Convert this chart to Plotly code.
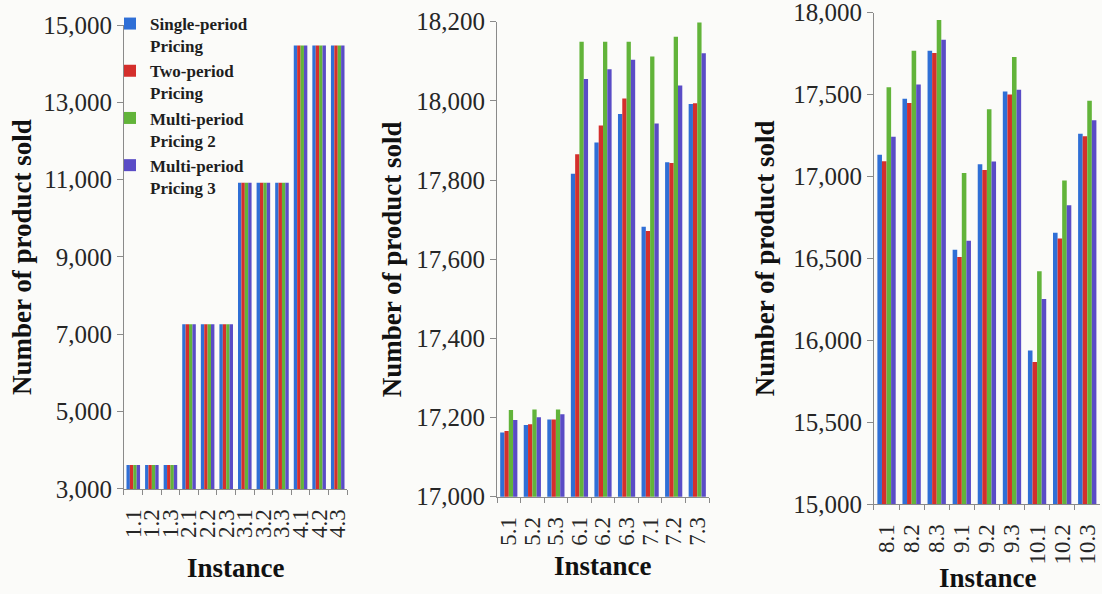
import plotly.graph_objects as go

# Instances per panel
inst_a = ["1.1", "1.2", "1.3", "2.1", "2.2", "2.3", "3.1", "3.2", "3.3", "4.1", "4.2", "4.3"]
inst_b = ["5.1", "5.2", "5.3", "6.1", "6.2", "6.3", "7.1", "7.2", "7.3"]
inst_c = ["8.1", "8.2", "8.3", "9.1", "9.2", "9.3", "10.1", "10.2", "10.3"]

series_names = ["Single-period<br>Pricing", "Two-period<br>Pricing",
                "Multi-period<br>Pricing 2", "Multi-period<br>Pricing 3"]
series_colors = ["#2f6fd6", "#d42f2c", "#62b43a", "#5a4cc6"]

# Number of product sold, instances 1.x - 4.x
single_a = [3620, 3620, 3620, 7260, 7260, 7260, 10920, 10920, 10920, 14470, 14470, 14470]
two_a = [3620, 3620, 3620, 7260, 7260, 7260, 10920, 10920, 10920, 14470, 14470, 14470]
multi2_a = [3620, 3620, 3620, 7260, 7260, 7260, 10920, 10920, 10920, 14470, 14470, 14470]
multi3_a = [3620, 3620, 3620, 7260, 7260, 7260, 10920, 10920, 10920, 14470, 14470, 14470]

# Instances 5.x - 7.x
single_b = [17162, 17181, 17195, 17816, 17895, 17967, 17682, 17845, 17992]
two_b = [17166, 17183, 17195, 17865, 17938, 18006, 17671, 17843, 17994]
multi2_b = [17219, 17220, 17220, 18149, 18149, 18149, 18112, 18162, 18198]
multi3_b = [17194, 17201, 17208, 18055, 18080, 18104, 17943, 18039, 18120]

# Instances 8.x - 10.x
single_c = [17133, 17474, 17768, 16552, 17075, 17519, 15937, 16657, 17261]
two_c = [17093, 17448, 17754, 16509, 17039, 17501, 15867, 16622, 17245]
multi2_c = [17545, 17768, 17956, 17021, 17410, 17730, 16421, 16976, 17463]
multi3_c = [17242, 17562, 17835, 16608, 17091, 17530, 16252, 16824, 17344]

y_ticks_a = [3000, 5000, 7000, 9000, 11000, 13000, 15000]
y_ticks_b = [17000, 17200, 17400, 17600, 17800, 18000, 18200]
y_ticks_c = [15000, 15500, 16000, 16500, 17000, 17500, 18000]

FONT = "Liberation Serif"
BG = "#fbfbf9"
AXIS = "#8a8a8a"
TXT = "#262626"

panels = [
    (inst_a, [single_a, two_a, multi2_a, multi3_a], y_ticks_a, "x", "y"),
    (inst_b, [single_b, two_b, multi2_b, multi3_b], y_ticks_b, "x2", "y2"),
    (inst_c, [single_c, two_c, multi2_c, multi3_c], y_ticks_c, "x3", "y3"),
]

fig = go.Figure()
for p, (cats, data, _, xa, ya) in enumerate(panels):
    for name, color, vals in zip(series_names, series_colors, data):
        fig.add_trace(go.Bar(
            x=cats, y=vals, name="<b>" + name + "</b>",
            marker=dict(color=color, line=dict(width=0)),
            xaxis=xa, yaxis=ya, showlegend=(p == 0),
        ))

x_domains = [[0.1125, 0.3149], [0.451, 0.6434], [0.7931, 0.998]]
y_domains = [[0.1768, 0.9579], [0.1638, 0.9635], [0.1515, 0.9786]]

layout = dict(
    width=1102, height=594,
    margin=dict(l=0, r=0, t=0, b=0),
    paper_bgcolor=BG, plot_bgcolor=BG,
    barmode="group", bargap=0.27, bargroupgap=0,
    font=dict(family=FONT, color=TXT),
    legend=dict(
        x=110 / 1102, y=1 - 6 / 594, xanchor="left", yanchor="top",
        bgcolor="rgba(0,0,0,0)", font=dict(family=FONT, size=17, color="#1e1e1e"),
        valign="top", tracegroupgap=0, itemwidth=30,
    ),
)
for i, (cats, _, yt, xa, ya) in enumerate(panels):
    sfx = "" if i == 0 else str(i + 1)
    layout["xaxis" + sfx] = dict(
        domain=x_domains[i], anchor="y" + sfx, automargin=False,
        type="category", tickmode="array", tickvals=cats, ticktext=cats,
        tickangle=-90, tickson="boundaries", ticks="outside", ticklen=5,
        tickcolor=AXIS, showline=True, linecolor=AXIS, linewidth=1,
        showgrid=False, tickfont=dict(family=FONT, size=23, color=TXT),
        ticklabelstandoff=10, ticklabeloverflow="allow", fixedrange=True,
    )
    layout["yaxis" + sfx] = dict(
        domain=y_domains[i], anchor="x" + sfx, automargin=False,
        range=[yt[0], yt[-1]], tickmode="array", tickvals=yt,
        ticktext=[f"{v:,}" for v in yt],
        ticks="outside", ticklen=6, tickcolor=AXIS,
        showline=True, linecolor=AXIS, linewidth=1, showgrid=False,
        zeroline=False, tickfont=dict(family=FONT, size=25, color=TXT),
        ticklabeloverflow="allow",
    )
fig.update_layout(**layout)

# Axis titles
title_font = dict(family=FONT, size=27, color="#111111")
ytitle_x = [22, 392, 765]
xtitle = [(236, 568), (603, 566), (988, 578)]
for i in range(3):
    dom = y_domains[i]
    fig.add_annotation(
        text="<b>Number of product sold</b>", xref="paper", yref="paper",
        x=ytitle_x[i] / 1102, y=(dom[0] + dom[1]) / 2, textangle=-90,
        showarrow=False, font=title_font, xanchor="center", yanchor="middle",
    )
    fig.add_annotation(
        text="<b>Instance</b>", xref="paper", yref="paper",
        x=xtitle[i][0] / 1102, y=1 - xtitle[i][1] / 594,
        showarrow=False, font=title_font, xanchor="center", yanchor="middle",
    )

fig.write_html("out.html")
